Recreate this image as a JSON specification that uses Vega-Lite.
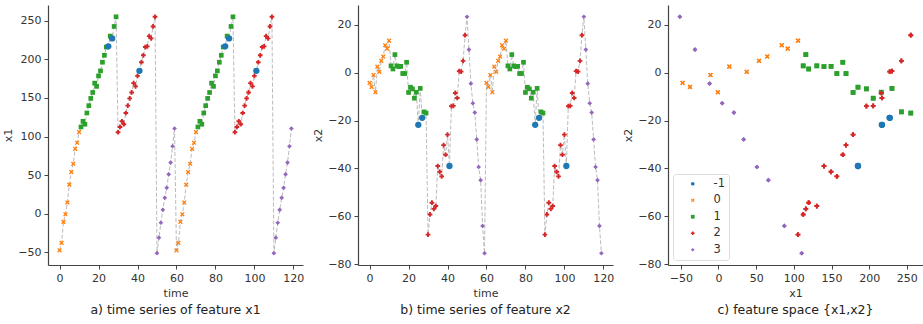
{
  "$schema": "https://vega.github.io/schema/vega-lite/v6.json",
  "padding": {"left": 2, "top": 5, "right": 0, "bottom": 0},
  "background": "white",
  "config": {
    "font": "DejaVu Sans",
    "view": {"stroke": null},
    "axis": {"grid": false, "labelFontSize": 11, "titleFontSize": 11, "titleFontWeight": "normal", "labelColor": "#333", "titleColor": "#333", "domainColor": "#444", "tickColor": "#444", "domainWidth": 1.2, "tickWidth": 1, "tickSize": 4, "labelPadding": 3, "labelFlush": false, "labelOverlap": false}
  },
  "data": {"values": [
    {"t":0,"x1":-47.6,"x2":-4.3,"c":"0"},{"t":1,"x1":-37.8,"x2":-6.0,"c":"0"},{"t":2,"x1":-10.6,"x2":-1.0,"c":"0"},{"t":3,"x1":-0.8,"x2":-8.2,"c":"0"},{"t":4,"x1":14.4,"x2":2.5,"c":"0"},{"t":5,"x1":37.5,"x2":0.3,"c":"0"},{"t":6,"x1":53.8,"x2":4.9,"c":"0"},{"t":7,"x1":64.7,"x2":6.7,"c":"0"},{"t":8,"x1":84.0,"x2":11.4,"c":"0"},{"t":9,"x1":91.9,"x2":10.0,"c":"0"},{"t":10,"x1":105.6,"x2":13.3,"c":"0"},
    {"t":11,"x1":112.4,"x2":2.8,"c":"1"},{"t":12,"x1":119.7,"x2":1.5,"c":"1"},{"t":13,"x1":115.9,"x2":7.5,"c":"1"},{"t":14,"x1":130.5,"x2":2.8,"c":"1"},{"t":15,"x1":140.0,"x2":2.5,"c":"1"},{"t":16,"x1":149.4,"x2":2.6,"c":"1"},{"t":17,"x1":157.1,"x2":-0.4,"c":"1"},{"t":18,"x1":169.2,"x2":-0.4,"c":"1"},{"t":19,"x1":165.0,"x2":4.3,"c":"1"},{"t":20,"x1":178.6,"x2":-8.3,"c":"1"},{"t":21,"x1":185.1,"x2":-6.1,"c":"1"},{"t":22,"x1":196.3,"x2":-6.8,"c":"1"},{"t":23,"x1":205.3,"x2":-10.7,"c":"1"},{"t":24,"x1":216.0,"x2":-8.2,"c":"1"},{"t":25,"x1":216.9,"x2":-21.8,"c":"-1"},{"t":26,"x1":230.2,"x2":-6.6,"c":"1"},{"t":27,"x1":227.2,"x2":-18.9,"c":"-1"},{"t":28,"x1":242.7,"x2":-16.4,"c":"1"},{"t":29,"x1":255.2,"x2":-16.9,"c":"1"},
    {"t":30,"x1":105.5,"x2":-67.6,"c":"2"},{"t":31,"x1":112.4,"x2":-59.2,"c":"2"},{"t":32,"x1":119.7,"x2":-54.3,"c":"2"},{"t":33,"x1":115.9,"x2":-56.9,"c":"2"},{"t":34,"x1":130.5,"x2":-55.7,"c":"2"},{"t":35,"x1":140.0,"x2":-39.0,"c":"2"},{"t":36,"x1":149.4,"x2":-41.4,"c":"2"},{"t":37,"x1":157.1,"x2":-43.3,"c":"2"},{"t":38,"x1":169.2,"x2":-30.3,"c":"2"},{"t":39,"x1":165.0,"x2":-34.3,"c":"2"},{"t":40,"x1":178.6,"x2":-25.9,"c":"2"},{"t":41,"x1":185.1,"x2":-39.0,"c":"-1"},{"t":42,"x1":196.3,"x2":-14.0,"c":"2"},{"t":43,"x1":205.3,"x2":-13.9,"c":"2"},{"t":44,"x1":216.0,"x2":-8.5,"c":"2"},{"t":45,"x1":216.9,"x2":-10.6,"c":"2"},{"t":46,"x1":230.2,"x2":0.6,"c":"2"},{"t":47,"x1":227.2,"x2":0.4,"c":"2"},{"t":48,"x1":242.7,"x2":4.9,"c":"2"},{"t":49,"x1":255.2,"x2":15.6,"c":"2"},
    {"t":50,"x1":-51.3,"x2":23.3,"c":"3"},{"t":51,"x1":-31.2,"x2":9.6,"c":"3"},{"t":52,"x1":-11.8,"x2":-4.6,"c":"3"},{"t":53,"x1":4.9,"x2":-12.8,"c":"3"},{"t":54,"x1":20.5,"x2":-16.7,"c":"3"},{"t":55,"x1":33.4,"x2":-27.9,"c":"3"},{"t":56,"x1":51.0,"x2":-39.4,"c":"3"},{"t":57,"x1":66.2,"x2":-44.9,"c":"3"},{"t":58,"x1":87.4,"x2":-64.0,"c":"3"},{"t":59,"x1":110.4,"x2":-75.4,"c":"3"},
    {"t":60,"x1":-47.6,"x2":-4.3,"c":"0"},{"t":61,"x1":-37.8,"x2":-6.0,"c":"0"},{"t":62,"x1":-10.6,"x2":-1.0,"c":"0"},{"t":63,"x1":-0.8,"x2":-8.2,"c":"0"},{"t":64,"x1":14.4,"x2":2.5,"c":"0"},{"t":65,"x1":37.5,"x2":0.3,"c":"0"},{"t":66,"x1":53.8,"x2":4.9,"c":"0"},{"t":67,"x1":64.7,"x2":6.7,"c":"0"},{"t":68,"x1":84.0,"x2":11.4,"c":"0"},{"t":69,"x1":91.9,"x2":10.0,"c":"0"},{"t":70,"x1":105.6,"x2":13.3,"c":"0"},
    {"t":71,"x1":112.4,"x2":2.8,"c":"1"},{"t":72,"x1":119.7,"x2":1.5,"c":"1"},{"t":73,"x1":115.9,"x2":7.5,"c":"1"},{"t":74,"x1":130.5,"x2":2.8,"c":"1"},{"t":75,"x1":140.0,"x2":2.5,"c":"1"},{"t":76,"x1":149.4,"x2":2.6,"c":"1"},{"t":77,"x1":157.1,"x2":-0.4,"c":"1"},{"t":78,"x1":169.2,"x2":-0.4,"c":"1"},{"t":79,"x1":165.0,"x2":4.3,"c":"1"},{"t":80,"x1":178.6,"x2":-8.3,"c":"1"},{"t":81,"x1":185.1,"x2":-6.1,"c":"1"},{"t":82,"x1":196.3,"x2":-6.8,"c":"1"},{"t":83,"x1":205.3,"x2":-10.7,"c":"1"},{"t":84,"x1":216.0,"x2":-8.2,"c":"1"},{"t":85,"x1":216.9,"x2":-21.8,"c":"-1"},{"t":86,"x1":230.2,"x2":-6.6,"c":"1"},{"t":87,"x1":227.2,"x2":-18.9,"c":"-1"},{"t":88,"x1":242.7,"x2":-16.4,"c":"1"},{"t":89,"x1":255.2,"x2":-16.9,"c":"1"},
    {"t":90,"x1":105.5,"x2":-67.6,"c":"2"},{"t":91,"x1":112.4,"x2":-59.2,"c":"2"},{"t":92,"x1":119.7,"x2":-54.3,"c":"2"},{"t":93,"x1":115.9,"x2":-56.9,"c":"2"},{"t":94,"x1":130.5,"x2":-55.7,"c":"2"},{"t":95,"x1":140.0,"x2":-39.0,"c":"2"},{"t":96,"x1":149.4,"x2":-41.4,"c":"2"},{"t":97,"x1":157.1,"x2":-43.3,"c":"2"},{"t":98,"x1":169.2,"x2":-30.3,"c":"2"},{"t":99,"x1":165.0,"x2":-34.3,"c":"2"},{"t":100,"x1":178.6,"x2":-25.9,"c":"2"},{"t":101,"x1":185.1,"x2":-39.0,"c":"-1"},{"t":102,"x1":196.3,"x2":-14.0,"c":"2"},{"t":103,"x1":205.3,"x2":-13.9,"c":"2"},{"t":104,"x1":216.0,"x2":-8.5,"c":"2"},{"t":105,"x1":216.9,"x2":-10.6,"c":"2"},{"t":106,"x1":230.2,"x2":0.6,"c":"2"},{"t":107,"x1":227.2,"x2":0.4,"c":"2"},{"t":108,"x1":242.7,"x2":4.9,"c":"2"},{"t":109,"x1":255.2,"x2":15.6,"c":"2"},
    {"t":110,"x1":-51.3,"x2":23.3,"c":"3"},{"t":111,"x1":-31.2,"x2":9.6,"c":"3"},{"t":112,"x1":-11.8,"x2":-4.6,"c":"3"},{"t":113,"x1":4.9,"x2":-12.8,"c":"3"},{"t":114,"x1":20.5,"x2":-16.7,"c":"3"},{"t":115,"x1":33.4,"x2":-27.9,"c":"3"},{"t":116,"x1":51.0,"x2":-39.4,"c":"3"},{"t":117,"x1":66.2,"x2":-44.9,"c":"3"},{"t":118,"x1":87.4,"x2":-64.0,"c":"3"},{"t":119,"x1":110.4,"x2":-75.4,"c":"3"}
  ]},
  "resolve": {"scale": {"color": "independent", "shape": "independent"}, "legend": {"color": "independent", "shape": "independent"}},
  "spacing": 8,
  "hconcat": [
    {
      "width": 255, "height": 260,
      "title": {"text": "a) time series of feature x1", "orient": "bottom", "frame": "group", "fontSize": 12.5, "fontWeight": "normal", "color": "#222", "offset": 6},
      "layer": [
        {"mark": {"type": "line", "strokeDash": [4, 2], "color": "#bbbbbb", "strokeWidth": 1},
         "encoding": {"x": {"field": "t", "type": "quantitative"}, "y": {"field": "x1", "type": "quantitative"}}},
        {"mark": {"type": "point", "filled": true, "opacity": 1},
         "encoding": {
           "x": {"field": "t", "type": "quantitative", "title": "time", "scale": {"domain": [-5.95, 124.95], "nice": false, "zero": false}, "axis": {"values": [0, 20, 40, 60, 80, 100, 120]}},
           "y": {"field": "x1", "type": "quantitative", "title": "x1", "scale": {"domain": [-66.6, 270.5], "nice": false, "zero": false}, "axis": {"values": [-50, 0, 50, 100, 150, 200, 250]}},
           "color": {"field": "c", "type": "nominal", "legend": null, "scale": {"domain": ["-1", "0", "1", "2", "3"], "range": ["#1f77b4", "#ff7f0e", "#2ca02c", "#d62728", "#9467bd"]}},
           "shape": {"field": "c", "type": "nominal", "legend": null, "scale": {"domain": ["-1", "0", "1", "2", "3"], "range": ["circle", "M-1,-0.6L-0.6,-1L0,-0.4L0.6,-1L1,-0.6L0.4,0L1,0.6L0.6,1L0,0.4L-0.6,1L-1,0.6L-0.4,0Z", "square", "cross", "diamond"]}},
           "size": {"condition": {"test": "datum.c == '-1'", "value": 40}, "value": 22}
         }}
      ]
    },
    {
      "width": 255, "height": 260,
      "title": {"text": "b) time series of feature x2", "orient": "bottom", "frame": "group", "fontSize": 12.5, "fontWeight": "normal", "color": "#222", "offset": 6},
      "layer": [
        {"mark": {"type": "line", "strokeDash": [4, 2], "color": "#bbbbbb", "strokeWidth": 1},
         "encoding": {"x": {"field": "t", "type": "quantitative"}, "y": {"field": "x2", "type": "quantitative"}}},
        {"mark": {"type": "point", "filled": true, "opacity": 1},
         "encoding": {
           "x": {"field": "t", "type": "quantitative", "title": "time", "scale": {"domain": [-5.95, 124.95], "nice": false, "zero": false}, "axis": {"values": [0, 20, 40, 60, 80, 100, 120]}},
           "y": {"field": "x2", "type": "quantitative", "title": "x2", "scale": {"domain": [-80.3, 28.2], "nice": false, "zero": false}, "axis": {"values": [-80, -60, -40, -20, 0, 20]}},
           "color": {"field": "c", "type": "nominal", "legend": null, "scale": {"domain": ["-1", "0", "1", "2", "3"], "range": ["#1f77b4", "#ff7f0e", "#2ca02c", "#d62728", "#9467bd"]}},
           "shape": {"field": "c", "type": "nominal", "legend": null, "scale": {"domain": ["-1", "0", "1", "2", "3"], "range": ["circle", "M-1,-0.6L-0.6,-1L0,-0.4L0.6,-1L1,-0.6L0.4,0L1,0.6L0.6,1L0,0.4L-0.6,1L-1,0.6L-0.4,0Z", "square", "cross", "diamond"]}},
           "size": {"condition": {"test": "datum.c == '-1'", "value": 40}, "value": 22}
         }}
      ]
    },
    {
      "width": 255, "height": 260,
      "title": {"text": "c) feature space {x1,x2}", "orient": "bottom", "frame": "group", "fontSize": 12.5, "fontWeight": "normal", "color": "#222", "offset": 6},
      "mark": {"type": "point", "filled": true, "opacity": 1},
      "encoding": {
        "x": {"field": "x1", "type": "quantitative", "title": "x1", "scale": {"domain": [-67, 271.4], "nice": false, "zero": false}, "axis": {"values": [-50, 0, 50, 100, 150, 200, 250]}},
        "y": {"field": "x2", "type": "quantitative", "title": "x2", "scale": {"domain": [-80.3, 28.2], "nice": false, "zero": false}, "axis": {"values": [-80, -60, -40, -20, 0, 20]}},
        "color": {"field": "c", "type": "nominal", "title": null, "scale": {"domain": ["-1", "0", "1", "2", "3"], "range": ["#1f77b4", "#ff7f0e", "#2ca02c", "#d62728", "#9467bd"]},
          "legend": {"orient": "bottom-left", "offset": 5, "padding": 4, "symbolOffset": 10, "strokeColor": "#dddddd", "fillColor": "white", "cornerRadius": 3, "labelFontSize": 11.5, "labelColor": "#333", "symbolSize": 14, "labelOffset": 15, "rowPadding": 3.5}},
        "shape": {"field": "c", "type": "nominal", "title": null, "scale": {"domain": ["-1", "0", "1", "2", "3"], "range": ["circle", "M-1,-0.6L-0.6,-1L0,-0.4L0.6,-1L1,-0.6L0.4,0L1,0.6L0.6,1L0,0.4L-0.6,1L-1,0.6L-0.4,0Z", "square", "cross", "diamond"]}},
        "size": {"condition": {"test": "datum.c == '-1'", "value": 40}, "value": 22}
      }
    }
  ]
}
